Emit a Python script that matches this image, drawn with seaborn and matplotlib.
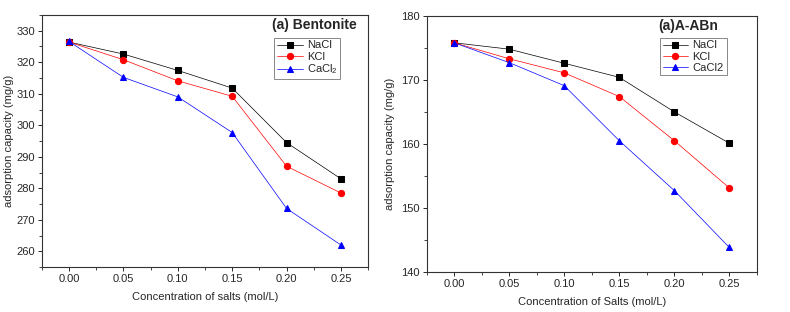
import matplotlib
matplotlib.use("Agg")
import matplotlib.pyplot as plt
from matplotlib.ticker import MultipleLocator, FormatStrFormatter
import pandas as pd
import seaborn as sns

sns.set_theme(style="ticks")
plt.rcParams["font.family"] = ["Liberation Sans", "DejaVu Sans"]
plt.rcParams["mathtext.fontset"] = "custom"
plt.rcParams["mathtext.rm"] = "Liberation Sans"

# --- data ---
conc = [0.00, 0.05, 0.10, 0.15, 0.20, 0.25]
salts = ["NaCl", "KCl", "CaCl2"]

bent_nacl = [326.4, 322.6, 317.4, 311.8, 294.5, 283.0]
bent_kcl = [326.4, 320.8, 314.1, 309.2, 287.0, 278.5]
bent_cacl2 = [326.6, 315.2, 309.0, 297.7, 273.6, 262.0]

aabn_nacl = [175.8, 174.8, 172.6, 170.4, 165.0, 160.1]
aabn_kcl = [175.8, 173.3, 171.1, 167.4, 160.5, 153.1]
aabn_cacl2 = [175.8, 172.7, 169.1, 160.5, 152.7, 143.8]

palette = {"NaCl": "black", "KCl": "red", "CaCl2": "blue"}
markers = {"NaCl": "s", "KCl": "o", "CaCl2": "^"}


def long_df(series):
    rows = []
    for salt, vals in zip(salts, series):
        for c, v in zip(conc, vals):
            rows.append({"conc": c, "capacity": v, "salt": salt})
    return pd.DataFrame(rows)


def draw(ax, df, ylim, title, legend_labels, xlabel, title_xy, leg_anchor, ypad):
    sns.lineplot(data=df, x="conc", y="capacity", hue="salt", style="salt",
                 palette=palette, markers=markers, dashes=False, lw=0.5,
                 markersize=4.5, legend=False, ax=ax)
    for line, salt in zip(ax.get_lines(), salts):
        line.set_markeredgecolor(palette[salt])
        line.set_markerfacecolor(palette[salt])
    ax.set_xlim(-0.025, 0.275)
    ax.set_ylim(*ylim)
    ax.xaxis.set_major_locator(MultipleLocator(0.05))
    ax.xaxis.set_minor_locator(MultipleLocator(0.025))
    ax.yaxis.set_major_locator(MultipleLocator(10))
    ax.yaxis.set_minor_locator(MultipleLocator(5))
    ax.xaxis.set_major_formatter(FormatStrFormatter("%.2f"))
    ax.tick_params(which="major", length=3, width=0.7, labelsize=8, pad=2)
    ax.tick_params(which="minor", length=2, width=0.6)
    for s in ax.spines.values():
        s.set_linewidth(0.8)
        s.set_color("#333333")
    ax.set_xlabel(xlabel, fontsize=8, labelpad=6)
    ax.set_ylabel("adsorption capacity (mg/g)", fontsize=8, labelpad=ypad)
    ax.text(*title_xy, title, transform=ax.transAxes, fontsize=10,
            fontweight="bold", ha="left", va="center")
    leg = ax.legend(ax.get_lines(), legend_labels, loc="upper left",
                    bbox_to_anchor=leg_anchor, fontsize=8, frameon=True,
                    fancybox=False, edgecolor="#888888", framealpha=1,
                    handlelength=2.3, handletextpad=0.4, borderpad=0.25,
                    labelspacing=0.1, borderaxespad=0)
    leg.get_frame().set_linewidth(0.7)


fig = plt.figure(figsize=(7.9, 3.12), dpi=100)
ax1 = fig.add_axes([0.053, 0.144, 0.413, 0.808])
ax2 = fig.add_axes([0.540, 0.129, 0.418, 0.820])

draw(ax1, long_df([bent_nacl, bent_kcl, bent_cacl2]), (255, 335),
     "(a) Bentonite", ["NaCl", "KCl", "CaCl$_2$"],
     "Concentration of salts (mol/L)", (0.705, 0.96), (0.712, 0.91), 2)
draw(ax2, long_df([aabn_nacl, aabn_kcl, aabn_cacl2]), (140, 180),
     "(a)A-ABn", ["NaCl", "KCl", "CaCl2"],
     "Concentration of Salts (mol/L)", (0.70, 0.96), (0.706, 0.915), 4)

fig.savefig("out.png", dpi=100)
